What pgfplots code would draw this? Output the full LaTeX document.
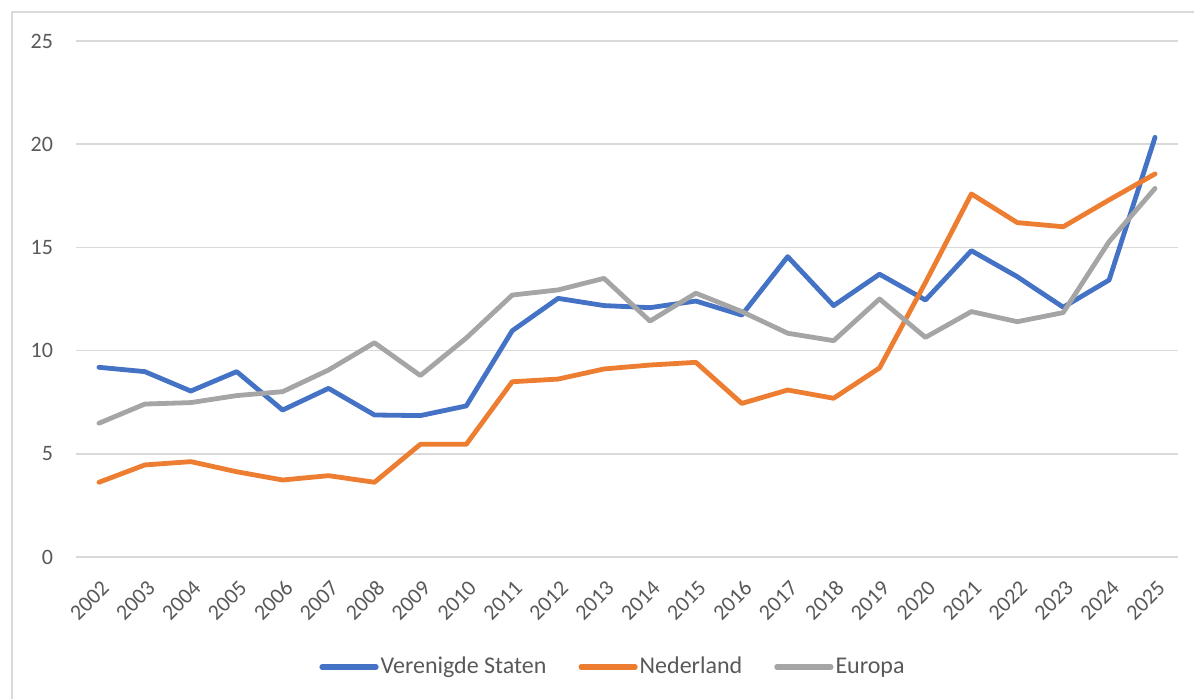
\documentclass[border=0pt]{standalone}
\usepackage{pgfplots}
\pgfplotsset{compat=1.18}
\usepackage{fontspec}
\setmainfont{Carlito}
\definecolor{cblue}{HTML}{4472C4}
\definecolor{corange}{HTML}{ED7D31}
\definecolor{cgray}{HTML}{A5A5A5}
\definecolor{cgrid}{HTML}{D9D9D9}
\definecolor{ctext}{HTML}{595959}
\begin{document}
\begin{tikzpicture}
\path[use as bounding box] (0,0) rectangle (597pt,349.5pt);
\draw[cgrid, line width=0.75pt] (6pt,0) -- (6pt,343.5pt) -- (597pt,343.5pt);
\begin{axis}[
  at={(38pt,71pt)}, anchor=south west,
  scale only axis, width=551pt, height=258pt,
  xmin=-0.5, xmax=23.5, ymin=0, ymax=25,
  axis line style={draw=none},
  ytick={0,5,10,15,20,25},
  xtick={0,...,23},
  xticklabels={2002,2003,2004,2005,2006,2007,2008,2009,2010,2011,2012,2013,2014,2015,2016,2017,2018,2019,2020,2021,2022,2023,2024,2025},
  major tick length=0pt,
  ymajorgrids, grid style={cgrid, line width=0.75pt},
  tick label style={font=\fontsize{11}{13}\selectfont, text=ctext},
  /pgf/number format/assume math mode=true,
  yticklabel style={anchor=east, xshift=-8pt},
  xticklabel style={rotate=45, anchor=east, xshift=-4pt, yshift=-12pt},
  clip=false,
  legend style={at={(268.5pt,-55pt)}, anchor=center, draw=none, fill=none,
    legend columns=3, font=\fontsize{12}{14}\selectfont, text=ctext,
    nodes={inner xsep=1pt},
    /tikz/every even column/.append style={column sep=15pt}},
  legend image code/.code={\draw[#1, line cap=round, line width=2.6pt] (0pt,0pt) -- (27pt,0pt);},
  every axis plot/.append style={line width=2.4pt, line join=round, line cap=round, mark=none},
]
\addplot[cblue] coordinates {(0,9.19)(1,8.98)(2,8.04)(3,8.98)(4,7.12)(5,8.17)(6,6.88)(7,6.85)(8,7.32)(9,10.96)(10,12.53)(11,12.18)(12,12.08)(13,12.4)(14,11.72)(15,14.55)(16,12.18)(17,13.7)(18,12.45)(19,14.84)(20,13.58)(21,12.1)(22,13.42)(23,20.33)};
\addlegendentry{Verenigde Staten}
\addplot[corange] coordinates {(0,3.62)(1,4.46)(2,4.62)(3,4.13)(4,3.73)(5,3.94)(6,3.62)(7,5.46)(8,5.46)(9,8.49)(10,8.62)(11,9.11)(12,9.3)(13,9.43)(14,7.44)(15,8.09)(16,7.69)(17,9.16)(18,13.3)(19,17.59)(20,16.2)(21,16.0)(22,17.3)(23,18.56)};
\addlegendentry{Nederland}
\addplot[cgray] coordinates {(0,6.48)(1,7.41)(2,7.48)(3,7.82)(4,8.01)(5,9.06)(6,10.38)(7,8.79)(8,10.61)(9,12.69)(10,12.94)(11,13.5)(12,11.43)(13,12.78)(14,11.89)(15,10.84)(16,10.48)(17,12.5)(18,10.64)(19,11.89)(20,11.4)(21,11.84)(22,15.28)(23,17.86)};
\addlegendentry{Europa}
\end{axis}
\end{tikzpicture}
\end{document}
